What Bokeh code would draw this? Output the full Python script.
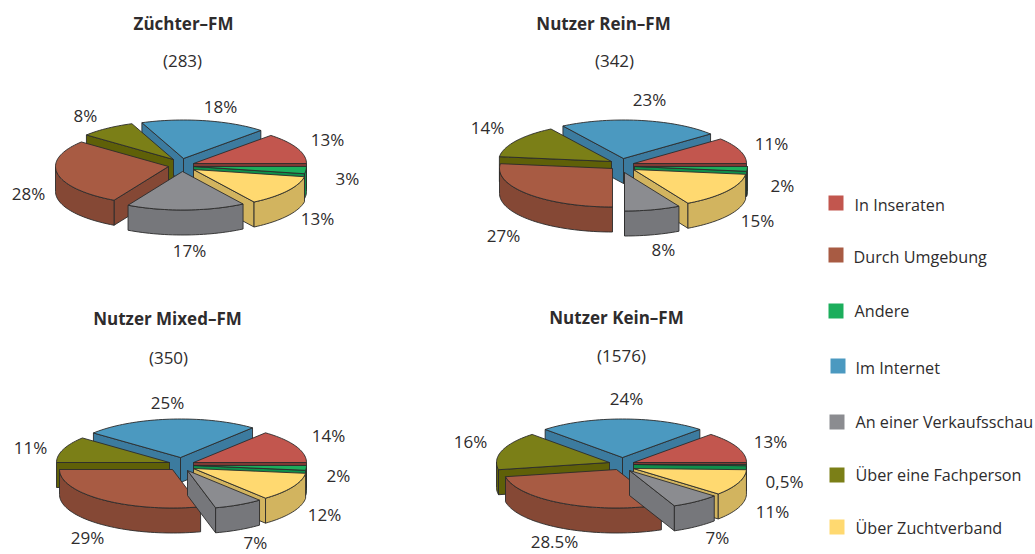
import math
from bokeh.plotting import figure
from bokeh.models import Range1d
from bokeh.core.properties import value
from bokeh.embed import file_html
from bokeh.resources import INLINE

# ---- data (percent shares) ----
categories = ["In Inseraten", "Andere", "Über Zuchtverband", "An einer Verkaufsschau",
              "Durch Umgebung", "Über eine Fachperson", "Im Internet"]
zuechter = [13, 3, 13, 17, 28, 8, 18]
rein = [11, 2, 15, 8, 27, 14, 23]
mixed = [14, 2, 12, 7, 29, 11, 25]
kein = [13, 0.5, 11, 7, 28.5, 16, 24]

titles = ["Züchter–FM", "Nutzer Rein–FM", "Nutzer Mixed–FM", "Nutzer Kein–FM"]
counts = ["(283)", "(342)", "(350)", "(1576)"]
legend_order = ["In Inseraten", "Durch Umgebung", "Andere", "Im Internet",
                "An einer Verkaufsschau", "Über eine Fachperson", "Über Zuchtverband"]

# ---- styling and layout ----
TOP = {"In Inseraten": "#c2564e", "Andere": "#1cae5c", "Über Zuchtverband": "#ffd970",
       "An einer Verkaufsschau": "#8b8c90", "Durch Umgebung": "#a85b43",
       "Über eine Fachperson": "#7b7f17", "Im Internet": "#4b99c0"}
WALL = {"In Inseraten": "#7e3a35", "Andere": "#0f8f4b", "Über Zuchtverband": "#d2b45f",
        "An einer Verkaufsschau": "#76777b", "Durch Umgebung": "#854835",
        "Über eine Fachperson": "#5f6008", "Im Internet": "#3c7b9f"}
DRAW_ORDER = ["Im Internet", "Über eine Fachperson", "In Inseraten", "Andere",
              "Über Zuchtverband", "Durch Umgebung", "An einer Verkaufsschau"]
RX, RY, DEPTH = 113, 38.5, 25
FONT = "Open Sans"

# slice tip positions on the page, per pie, in category order
tips = [
    [(193, 163), (193, 166), (193, 169), (182, 171), (168, 166), (173, 159), (183, 158)],
    [(633, 163), (634, 166), (633, 169), (624, 172), (612, 168), (611, 161), (623, 158)],
    [(193, 462), (193, 465), (193, 468), (187, 470), (172, 469), (169, 462), (180, 457)],
    [(633, 462), (633, 464), (633, 468), (629, 470), (616, 469), (609, 462), (622, 457)],
]
series = [zuechter, rein, mixed, kein]

title_pos = [(183, 23), (603, 23), (167, 318), (616, 317)]
count_pos = [(182, 60), (614, 60), (168, 357), (621, 355)]
label_pos = [
    [("13%", 327, 139), ("3%", 347, 178), ("13%", 317, 218), ("17%", 189, 250),
     ("28%", 28, 193), ("8%", 85, 115), ("18%", 220, 106)],
    [("11%", 771, 143), ("2%", 782, 185), ("15%", 757, 220), ("8%", 663, 249),
     ("27%", 503, 235), ("14%", 487, 127), ("23%", 649, 99)],
    [("14%", 328, 435), ("2%", 338, 475), ("12%", 324, 514), ("7%", 255, 542),
     ("29%", 87, 537), ("11%", 30, 447), ("25%", 167, 402)],
    [("13%", 770, 441), ("0,5%", 784, 481), ("11%", 772, 511), ("7%", 717, 537),
     ("28.5%", 554, 541), ("16%", 470, 441), ("24%", 626, 398)],
]
legend_pos = [(828, 195, 854, 204), (828, 247, 853, 256), (828, 303, 854, 310),
              (830, 358, 855, 367), (829, 414, 855, 421), (829, 467, 855, 474),
              (829, 519, 855, 527)]

p = figure(width=1035, height=554, x_range=Range1d(0, 1035), y_range=Range1d(554, 0),
           output_backend="svg", toolbar_location=None, min_border=0,
           x_axis_location=None, y_axis_location=None, outline_line_color=None,
           background_fill_color="white", border_fill_color="white")
p.grid.visible = False


def arc(cx, cy, a0, a1):
    n = max(2, int(abs(a1 - a0) / 2) + 1)
    xs, ys = [], []
    for i in range(n + 1):
        a = math.radians(a0 + (a1 - a0) * i / n)
        xs.append(cx + RX * math.cos(a))
        ys.append(cy - RY * math.sin(a))
    return xs, ys


xs_all, ys_all, fills = [], [], []


def add(xs, ys, color):
    xs_all.append(xs)
    ys_all.append(ys)
    fills.append(color)


for vals, pie_tips in zip(series, tips):
    # slices run clockwise; the first one ends at three o'clock
    angle = vals[0] * 3.6
    spans = {}
    for cat, v, tip in zip(categories, vals, pie_tips):
        spans[cat] = (angle, angle - v * 3.6, tip)
        angle -= v * 3.6
    for cat in DRAW_ORDER:
        a0, a1, (cx, cy) = spans[cat]
        wall = WALL[cat]
        # cut faces turned towards the viewer
        for a, vis in ((a0, math.cos(math.radians(a0)) < 0), (a1, math.cos(math.radians(a1)) > 0)):
            if vis:
                ex = cx + RX * math.cos(math.radians(a))
                ey = cy - RY * math.sin(math.radians(a))
                add([cx, ex, ex, cx], [cy, ey, ey + DEPTH, cy + DEPTH], wall)
        # outer rim: only the front half of the ellipse is visible
        hi, lo = a0, a1
        for base in (0, -360):
            h = min(hi, base)
            l = max(lo, base - 180)
            if h > l:
                rx_, ry_ = arc(cx, cy, h, l)
                add(rx_ + rx_[::-1], ry_ + [y + DEPTH for y in ry_[::-1]], wall)
        tx, ty = arc(cx, cy, a0, a1)
        add([cx] + tx, [cy] + ty, TOP[cat])

p.patches(xs_all, ys_all, fill_color=fills, line_color="#2b2b2b", line_width=0.9, line_join="round")

# legend swatches
p.quad(left=[q[0] for q in legend_pos], right=[q[0] + 15 for q in legend_pos],
       top=[q[1] for q in legend_pos], bottom=[q[1] + 15 for q in legend_pos],
       fill_color=[TOP[c] for c in legend_order], line_color=None)

TEXT = "#2e2c2d"
p.text(x=[q[2] for q in legend_pos], y=[q[3] for q in legend_pos], text=legend_order,
       text_font=value(FONT), text_font_size="16.2px", text_color=TEXT,
       text_align="left", text_baseline="middle")

lx, ly, lt = [], [], []
for row in label_pos:
    for t, x, y in row:
        lx.append(x); ly.append(y); lt.append(t)
lx += [q[0] for q in count_pos]
ly += [q[1] for q in count_pos]
lt += counts
p.text(x=lx, y=ly, text=lt, text_font=value(FONT), text_font_size="17px", text_color=TEXT,
       text_align="center", text_baseline="middle")
p.text(x=[q[0] for q in title_pos], y=[q[1] for q in title_pos], text=titles,
       text_font=value(FONT), text_font_size="17px", text_font_style="bold", text_color=TEXT,
       text_align="center", text_baseline="middle")

open("out.html", "w").write(file_html(p, INLINE))
